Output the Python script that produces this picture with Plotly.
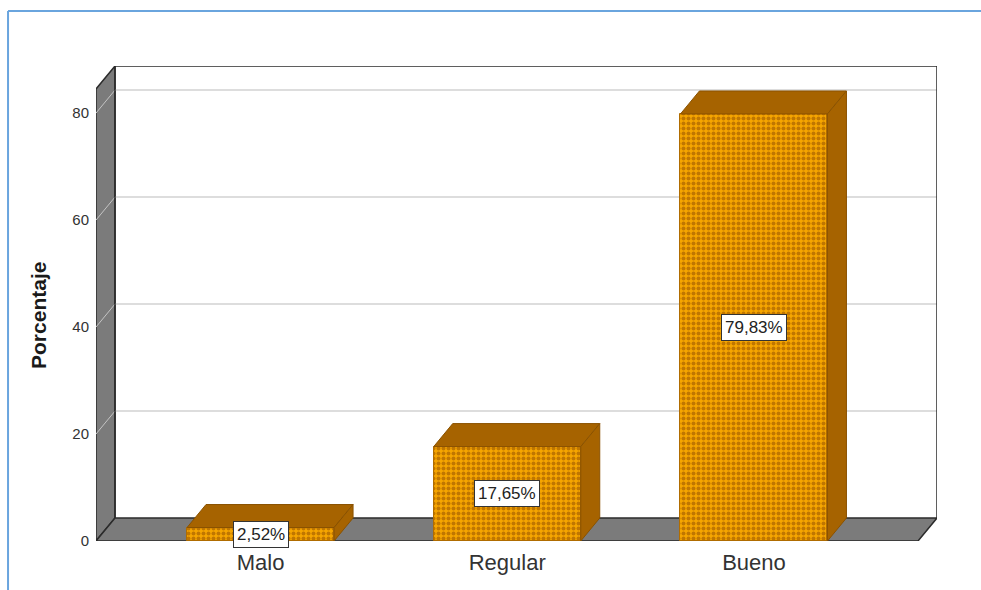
import plotly.graph_objects as go

# Data
categories = ["Malo", "Regular", "Bueno"]
percentages = [2.52, 17.65, 79.83]
y_ticks = [0, 20, 40, 60, 80]

# Pseudo-3D box geometry (in axis units)
X_MIN, X_MAX = -0.667, 2.742
Y_MAX = 88.8
DX, DY = 0.077, 4.3          # depth offset of the back wall
BAR_W = 0.596

FACE_DARK = "#a66300"
FACE_EDGE = "#8a5200"
WALL_GREY = "#7b7b7b"
OUTLINE = "#2b2b2b"

xpos = list(range(len(categories)))

fig = go.Figure()

# Front faces of the bars (dotted orange texture)
fig.add_trace(go.Bar(
    x=xpos, y=percentages, width=BAR_W,
    marker=dict(
        color="#f4a200",
        line=dict(color="#b06c00", width=1),
        pattern=dict(shape=".", fgcolor="#c07600", bgcolor="#f6a500",
                     size=5, solidity=0.5, fillmode="replace"),
    ),
    hoverinfo="skip", showlegend=False,
))

# Top and side faces of each bar
top_x, top_y, side_x, side_y = [], [], [], []
for x, v in zip(xpos, percentages):
    l, r = x - BAR_W / 2, x + BAR_W / 2
    top_x += [l, r, r + DX, l + DX, l, None]
    top_y += [v, v, v + DY, v + DY, v, None]
    side_x += [r, r, r + DX, r + DX, r, None]
    side_y += [0, v, v + DY, DY, 0, None]

for px, py in ((top_x, top_y), (side_x, side_y)):
    fig.add_trace(go.Scatter(
        x=px, y=py, mode="lines", fill="toself", fillcolor=FACE_DARK,
        line=dict(color=FACE_EDGE, width=1),
        hoverinfo="skip", showlegend=False,
    ))

shapes = []
xb = X_MIN + DX            # left edge of the back wall
xf = X_MAX - DX            # right edge of the front plane

# Left wall
shapes.append(dict(
    type="path", layer="below",
    path=f"M {X_MIN},0 L {X_MIN},{Y_MAX - DY} L {xb},{Y_MAX} L {xb},{DY} Z",
    fillcolor=WALL_GREY, line=dict(color=OUTLINE, width=1.5),
))
# Floor
shapes.append(dict(
    type="path", layer="below",
    path=f"M {X_MIN},0 L {xf},0 L {X_MAX},{DY} L {xb},{DY} Z",
    fillcolor=WALL_GREY, line=dict(color=OUTLINE, width=1.5),
))

# Grid lines on the back wall and across the left wall
for t in y_ticks[1:]:
    shapes.append(dict(type="line", layer="below", x0=xb, x1=X_MAX,
                       y0=t + DY, y1=t + DY,
                       line=dict(color="#d2d2d2", width=1.5)))
    shapes.append(dict(type="line", layer="below", x0=X_MIN, x1=xb,
                       y0=t, y1=t + DY,
                       line=dict(color="#c4c4c4", width=1)))

# Back wall outline (left, top, right edges)
shapes.append(dict(
    type="path", layer="below",
    path=f"M {xb},{DY} L {xb},{Y_MAX} L {X_MAX},{Y_MAX} L {X_MAX},{DY}",
    line=dict(color=OUTLINE, width=1.5),
))

# Blue frame around the chart
shapes.append(dict(type="line", xref="paper", yref="paper",
                   x0=-0.1046, x1=1.2, y0=1.1158, y1=1.1158,
                   line=dict(color="#6aa5de", width=2)))
shapes.append(dict(type="line", xref="paper", yref="paper",
                   x0=-0.1046, x1=-0.1046, y0=1.1158, y1=-0.2,
                   line=dict(color="#6aa5de", width=2)))

# Value labels in boxes at the middle of each bar
annotations = []
for x, v in zip(xpos, percentages):
    annotations.append(dict(
        x=x, y=v / 2, xref="x", yref="y",
        text=f"{v:.2f}".replace(".", ",") + "%",
        showarrow=False,
        font=dict(family="Arial, Liberation Sans", size=17, color="#222222"),
        bgcolor="white", bordercolor="#333333", borderwidth=1, borderpad=3,
    ))

# Y axis title
annotations.append(dict(
    x=-0.069, y=(Y_MAX - DY) / 2, xref="paper", yref="y",
    xanchor="center", yanchor="middle",
    text="<b>Porcentaje</b>", textangle=-90, showarrow=False,
    font=dict(family="Arial, Liberation Sans", size=21, color="#1a1a1a"),
))

fig.update_layout(
    width=981, height=590,
    margin=dict(l=96, r=44, t=66, b=49),
    paper_bgcolor="white", plot_bgcolor="white",
    shapes=shapes, annotations=annotations,
    bargap=0,
    xaxis=dict(
        range=[X_MIN, X_MAX], tickmode="array", tickvals=xpos,
        ticktext=categories, showgrid=False, zeroline=False, showline=False,
        ticks="", ticklabelstandoff=6,
        tickfont=dict(family="Arial, Liberation Sans", size=22, color="#333333"),
    ),
    yaxis=dict(
        range=[0, Y_MAX], tickmode="array", tickvals=y_ticks,
        showgrid=False, zeroline=False, showline=False, ticks="",
        ticklabelstandoff=6,
        tickfont=dict(family="Arial, Liberation Sans", size=15, color="#333333"),
    ),
)

fig.write_html("out.html")
